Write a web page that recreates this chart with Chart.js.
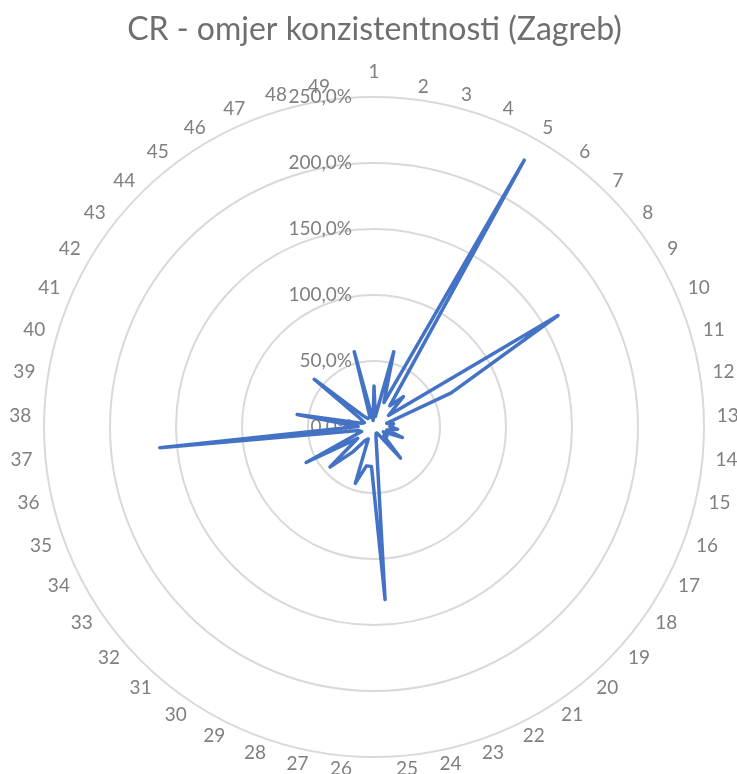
<!DOCTYPE html>
<html>
<head>
<meta charset="utf-8">
<script src="https://cdn.jsdelivr.net/npm/chart.js@4.4.1/dist/chart.umd.min.js"></script>
<style>
  html, body { margin: 0; padding: 0; background: #fff; overflow: hidden; }
  #wrap { width: 737px; height: 774px; }
</style>
</head>
<body>
<div id="wrap"><canvas id="crChart" width="737" height="774"></canvas></div>
<script>
// --- Podaci (CR u %) ---
const kategorije = ['1','2','3','4','5','6','7','8','9','10','11','12','13','14','15','16','17',
  '18','19','20','21','22','23','24','25','26','27','28','29','30','31','32','33','34','35','36',
  '37','38','39','40','41','42','43','44','45','46','47','48','49'];

const crZagreb = [31, 8, 59, 20, 232, 20, 32, 14, 163, 64, 10, 15, 12, 18, 10, 23, 8,
  12, 10, 31, 8, 5, 5, 8, 131, 30, 30, 45, 10, 12, 25, 45, 15, 58, 10, 12,
  163, 12, 59, 10, 8, 12, 58, 12, 8, 8, 8, 59, 5];

const tickVrijednosti = [0, 50, 100, 150, 200, 250];
const tickOznake = ['0,0%', '50,0%', '100,0%', '150,0%', '200,0%', '250,0%'];

const sivaTekst = '#7f7f7f';
const fontObitelj = 'Lato, "Open Sans", sans-serif';

// oznake osi: Chart.js preskace 0 i centrira tekst, Excel ih poravna desno
const osovinaOznake = {
  id: 'osovinaOznake',
  beforeDatasetsDraw(chart) {
    const s = chart.scales.r;
    const ctx = chart.ctx;
    ctx.save();
    ctx.font = '19px ' + fontObitelj;
    ctx.fillStyle = sivaTekst;
    ctx.textAlign = 'right';
    ctx.textBaseline = 'middle';
    tickVrijednosti.forEach((v, i) => {
      const d = s.getDistanceFromCenterForValue(v);
      ctx.fillText(tickOznake[i], s.xCenter - 22, s.yCenter - d);
    });
    ctx.restore();
  }
};

// oznake kategorija kao u Excelu: okomito centrirane, smiju izaci iz platna
const oznakeKategorija = {
  id: 'oznakeKategorija',
  afterDraw(chart) {
    const s = chart.scales.r;
    const ctx = chart.ctx;
    ctx.save();
    ctx.font = '19px ' + fontObitelj;
    ctx.fillStyle = sivaTekst;
    kategorije.forEach((lab, i) => {
      const sin = Math.sin(s.getIndexAngle(i));
      const p = s.getPointPosition(i, s.drawingArea + (i === 0 ? 16 : 13));
      ctx.textAlign = Math.abs(sin) < 0.01 ? 'center' : (sin > 0 ? 'left' : 'right');
      ctx.textBaseline = i === 0 ? 'bottom' : 'middle';
      ctx.fillText(lab, p.x, p.y);
    });
    ctx.restore();
  }
};

new Chart(document.getElementById('crChart'), {
  type: 'radar',
  data: {
    labels: kategorije,
    datasets: [{
      label: 'CR',
      data: crZagreb,
      borderColor: '#4472c4',
      borderWidth: 3.5,
      borderJoinStyle: 'round',
      borderCapStyle: 'round',
      fill: false,
      pointRadius: 0,
      pointHoverRadius: 0,
      tension: 0
    }]
  },
  options: {
    responsive: false,
    animation: false,
    layout: { padding: { top: 0, bottom: 16, left: 44, right: 32 } },
    plugins: {
      legend: { display: false },
      tooltip: { enabled: false },
      title: {
        display: true,
        text: 'CR - omjer konzistentnosti (Zagreb)',
        color: '#6f6f6f',
        font: { family: fontObitelj, size: 32, weight: 'normal' },
        padding: { top: 10, bottom: 48.6 }
      }
    },
    scales: {
      r: {
        min: 0,
        max: 250,
        ticks: { stepSize: 50, display: false },
        grid: { circular: true, color: '#d9d9d9', lineWidth: 2 },
        angleLines: { display: false },
        pointLabels: { display: false }
      }
    }
  },
  plugins: [osovinaOznake, oznakeKategorija]
});
</script>
</body>
</html>
